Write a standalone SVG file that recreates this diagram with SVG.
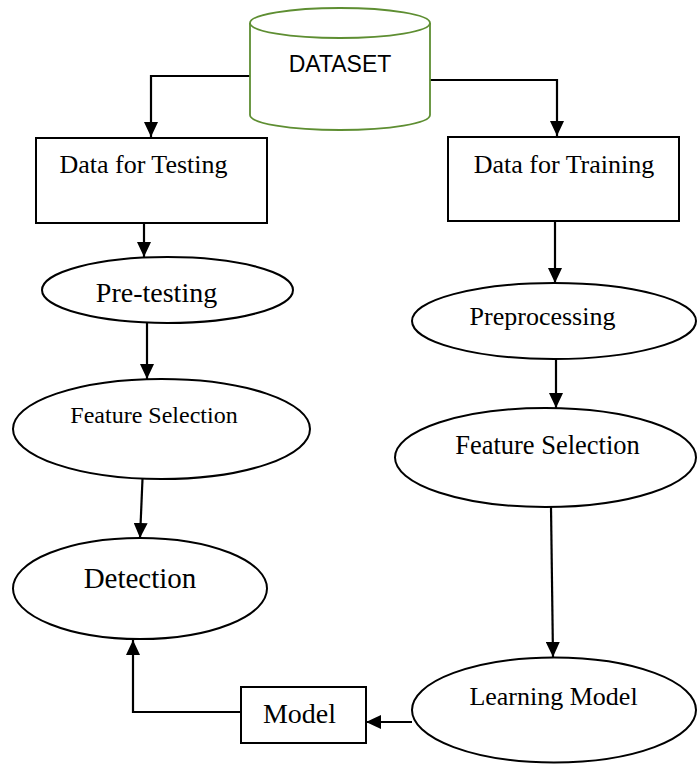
<svg xmlns="http://www.w3.org/2000/svg" width="697" height="764" viewBox="0 0 697 764">
<defs>
<style>
.shape{fill:#fff;stroke:#000;stroke-width:2}
.cyl{fill:#fff;stroke:#5E8E32;stroke-width:1.8}
.conn{fill:none;stroke:#000;stroke-width:2.2}
.t{font-family:"Liberation Serif","Times New Roman",serif;fill:#000;text-anchor:middle}
.s{font-family:"Liberation Sans",Arial,sans-serif;fill:#000;text-anchor:middle}
</style>
<marker id="ah" markerWidth="15" markerHeight="14" refX="15" refY="7" orient="auto" markerUnits="userSpaceOnUse">
<path d="M0,0 L15,7 L0,14 z" fill="#000"/>
</marker>
</defs>
<rect width="697" height="764" fill="#fff"/>
<g id="connectors">
<path class="conn" d="M250,76 H151 V137" marker-end="url(#ah)"/>
<path class="conn" d="M430,80 H557 V136" marker-end="url(#ah)"/>
<path class="conn" d="M144,223 V257" marker-end="url(#ah)"/>
<path class="conn" d="M555,221 V283" marker-end="url(#ah)"/>
<path class="conn" d="M147,323 V379" marker-end="url(#ah)"/>
<path class="conn" d="M556,359 V408" marker-end="url(#ah)"/>
<path class="conn" d="M142.5,479 L140,538" marker-end="url(#ah)"/>
<path class="conn" d="M551,507 L553,657" marker-end="url(#ah)"/>
<path class="conn" d="M412,722 H366" marker-end="url(#ah)"/>
<path class="conn" d="M241,712 H133 V640" marker-end="url(#ah)"/>
</g>
<g id="dataset">
<path class="cyl" d="M250,23 V115 A90,15 0 0 0 430,115 V23"/>
<ellipse class="cyl" cx="340" cy="23" rx="90" ry="15"/>
<text class="s" x="340" y="72" font-size="23">DATASET</text>
</g>
<g id="data-testing">
<rect class="shape" x="36" y="138" width="231" height="85"/>
<text class="t" x="143.5" y="173" font-size="26">Data for Testing</text>
</g>
<g id="data-training">
<rect class="shape" x="448" y="137" width="231" height="84"/>
<text class="t" x="564" y="173" font-size="26">Data for Training</text>
</g>
<g id="pre-testing">
<ellipse class="shape" cx="167.5" cy="290" rx="125.5" ry="33"/>
<text class="t" x="156.5" y="302" font-size="28">Pre-testing</text>
</g>
<g id="preprocessing">
<ellipse class="shape" cx="554" cy="321" rx="142" ry="38"/>
<text class="t" x="542.5" y="325" font-size="26">Preprocessing</text>
</g>
<g id="feature-selection-test">
<ellipse class="shape" cx="161.5" cy="429" rx="148.5" ry="50"/>
<text class="t" x="154" y="423" font-size="24">Feature Selection</text>
</g>
<g id="feature-selection-train">
<ellipse class="shape" cx="545.5" cy="457.5" rx="150.5" ry="49.5"/>
<text class="t" x="547.5" y="454" font-size="26.5">Feature Selection</text>
</g>
<g id="detection">
<ellipse class="shape" cx="140" cy="588.5" rx="127" ry="50.5"/>
<text class="t" x="140" y="588" font-size="29">Detection</text>
</g>
<g id="learning-model">
<ellipse class="shape" cx="554" cy="710" rx="142" ry="52.5"/>
<text class="t" x="553.5" y="705" font-size="26">Learning Model</text>
</g>
<g id="model">
<rect class="shape" x="241" y="687" width="125" height="56"/>
<text class="t" x="299.5" y="723" font-size="28">Model</text>
</g>
</svg>
